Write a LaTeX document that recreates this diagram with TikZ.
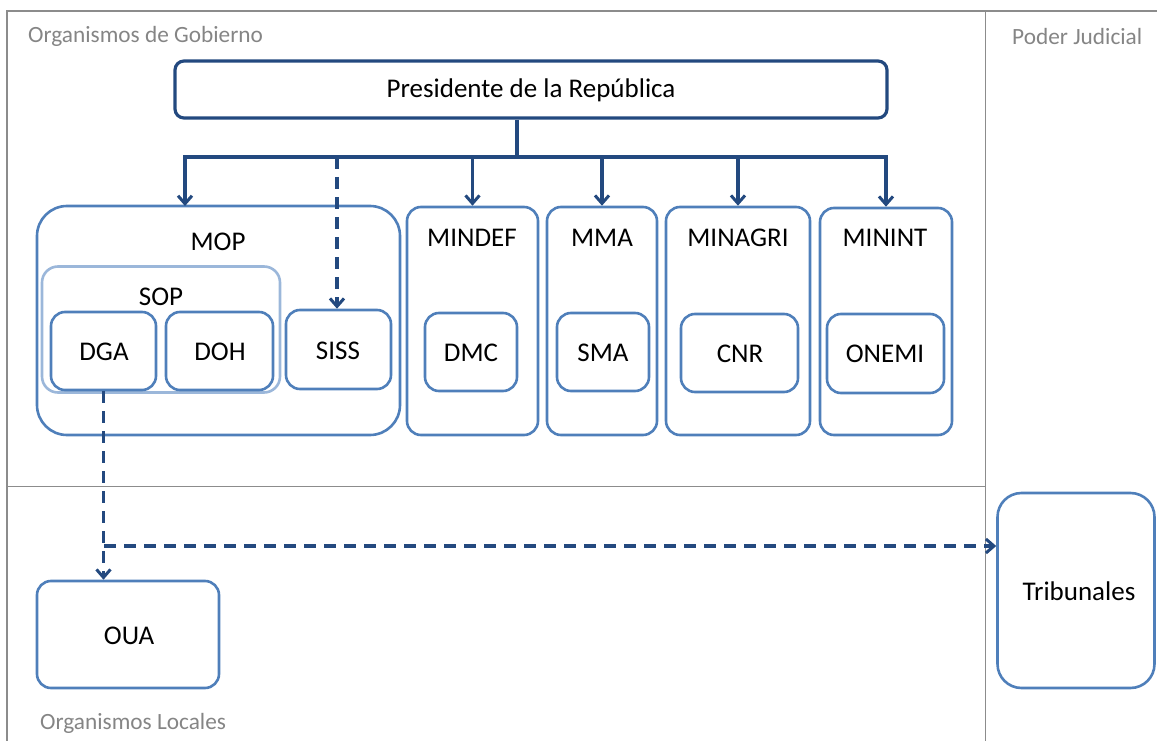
\documentclass[tikz,border=0pt]{standalone}
\usepackage{fontspec}
\setmainfont{Carlito}
\usetikzlibrary{arrows.meta}
\definecolor{navy}{HTML}{23497F}
\definecolor{mblue}{HTML}{4F7FBA}
\definecolor{lblue}{HTML}{9BB7DA}
\definecolor{frame}{HTML}{8C8C8C}
\definecolor{gtxt}{HTML}{858585}
\begin{document}
\begin{tikzpicture}[x=1pt,y=-1pt,
  box/.style={draw=mblue,line width=2.6pt,rounded corners=14pt,inner sep=0pt},
  bigbox/.style={box,rounded corners=30pt},
  soptbox/.style={draw=lblue,line width=2.6pt,rounded corners=16pt,inner sep=0pt},
  presbox/.style={draw=navy,line width=3.2pt,rounded corners=9pt,inner sep=0pt},
  lab/.style={font=\fontsize{27}{30}\selectfont,text=black,inner sep=0pt},
  glab/.style={font=\fontsize{23.3}{26}\selectfont,text=gtxt,inner sep=0pt},
  framel/.style={draw=frame,line width=1.2pt},
  conn/.style={draw=navy,line width=3.4pt},
  arr/.style={conn,-{Straight Barb[length=8pt,width=14pt,line width=3pt]}},
  darr/.style={arr,dash pattern=on 12pt off 8pt},
]
\useasboundingbox (0,0) rectangle (1157,741);
% frame
\draw[framel] (7,741) -- (7,11) -- (1157,11);
\draw[framel] (985.5,11) -- (985.5,741);
\draw[framel] (7,486.5) -- (985.5,486.5);
\node[glab,anchor=west] (gobT) at (28,36) {Organismos de Gobierno};
\node[glab,anchor=west] (judT) at (1012,36) {Poder Judicial};
\node[glab,anchor=west] (locT) at (40,723) {Organismos Locales};
% president
\node[presbox,minimum width=712,minimum height=57] (Pres) at (531,89.5) {};
\node[lab] (PresT) at (531,90) {Presidente de la República};
% ministries
\node[bigbox,minimum width=363,minimum height=229] (MOP) at (218.5,320.5) {};
\node[lab] (MOPT) at (218,242) {MOP};
\node[soptbox,minimum width=238,minimum height=126] (SOP) at (161,329.5) {};
\node[lab] (SOPT) at (161,297) {SOP};
\node[box,minimum width=105,minimum height=78] (DGA) at (103.5,351) {};
\node[lab] (DGAT) at (104,352) {DGA};
\node[box,minimum width=107,minimum height=78] (DOH) at (219.5,351) {};
\node[lab] (DOHT) at (220,352) {DOH};
\node[box,minimum width=105,minimum height=79] (SISS) at (338.5,349.5) {};
\node[lab] (SISST) at (338,351) {SISS};
\node[box,minimum width=131,minimum height=228] (MINDEF) at (472.5,321) {};
\node[lab] (MINDEFT) at (472,238) {MINDEF};
\node[box,minimum width=92,minimum height=78] (DMC) at (471,352) {};
\node[lab] (DMCT) at (471,353) {DMC};
\node[box,minimum width=110,minimum height=228] (MMA) at (602,321) {};
\node[lab] (MMAT) at (602,238) {MMA};
\node[box,minimum width=92,minimum height=78] (SMA) at (603,352) {};
\node[lab] (SMAT) at (603,353) {SMA};
\node[box,minimum width=144,minimum height=228] (MINAGRI) at (738,321) {};
\node[lab] (MINAGRIT) at (738,238) {MINAGRI};
\node[box,minimum width=117,minimum height=78] (CNR) at (739.5,353) {};
\node[lab] (CNRT) at (740,354) {CNR};
\node[box,minimum width=132,minimum height=227] (MININT) at (886,321.5) {};
\node[lab] (MININTT) at (885,238) {MININT};
\node[box,minimum width=117,minimum height=79] (ONEMI) at (885.5,353.5) {};
\node[lab] (ONEMIT) at (885,354) {ONEMI};
% lower
\node[box,minimum width=182,minimum height=107] (OUA) at (128,634.5) {};
\node[lab] (OUAT) at (129,636) {OUA};
\node[box,rounded corners=24pt,minimum width=157,minimum height=195] (TRIB) at (1076,590.5) {};
\node[lab] (TRIBT) at (1079,591) {Tribunales};
% connectors
\coordinate (busL) at (185,157);
\coordinate (busM) at (517,157);
\coordinate (mopIn) at (185,206);
\coordinate (sissTop) at (337,157);
\draw[conn] (Pres.south -| busM) -- (busM);
\draw[arr] (busM) -- (busL) -- (mopIn);
\draw[arr] (busM) -| (MININT.north);
\draw[arr] (MINDEF.north |- busL) -- (MINDEF.north);
\draw[arr] (MMA.north |- busL) -- (MMA.north);
\draw[arr] (MINAGRI.north |- busL) -- (MINAGRI.north);
\draw[darr] (sissTop) -- (SISS.north -| sissTop);
\coordinate (junc) at (104,546);
\draw[darr] (DGA.south) -- (OUA.north -| DGA.south);
\draw[darr] (junc) -- (junc -| TRIB.west);
\end{tikzpicture}
\end{document}
